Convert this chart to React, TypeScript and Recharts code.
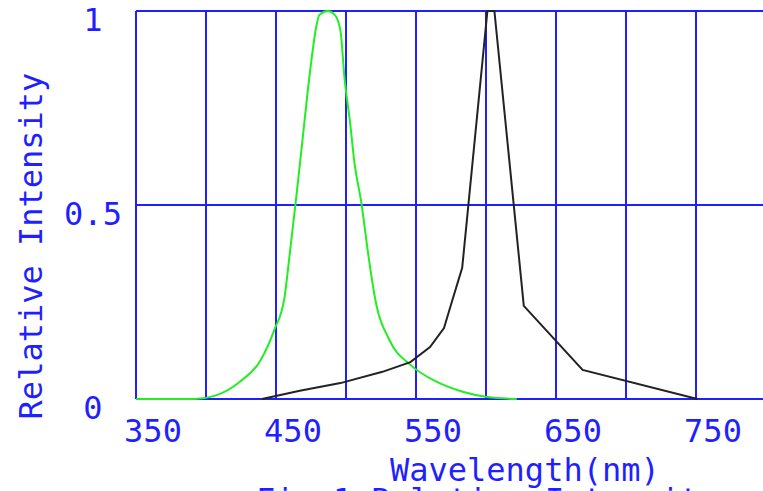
import { LineChart, Line, XAxis, YAxis, CartesianGrid } from 'recharts';

// wavelength (nm) / relative intensity
const greenNm = [350, 392, 406, 424, 439, 449, 456, 460, 464, 469, 474, 479, 481, 487, 492, 496, 499, 503, 506, 511, 516, 521, 531, 546, 565, 584, 601, 622];
const greenVal = [0, 0, 0.008, 0.044, 0.1, 0.18, 0.26, 0.38, 0.505, 0.67, 0.835, 0.964, 0.99, 1, 0.99, 0.95, 0.825, 0.71, 0.61, 0.505, 0.37, 0.255, 0.152, 0.088, 0.044, 0.018, 0.005, 0];

const blackNm = [440, 467, 496, 526, 546, 560, 570, 576, 583, 601, 606, 627, 669, 751];
const blackVal = [0, 0.021, 0.041, 0.07, 0.095, 0.134, 0.183, 0.255, 0.338, 1, 1, 0.24, 0.075, 0];

const xTicks = [350, 400, 450, 500, 550, 600, 650, 700, 750, 800];
const xLabels = [350, 450, 550, 650, 750];
const yTicks = [0, 0.5, 1];
const yLabels = ['0', '0.5', '1'];

const greenData = greenNm.map((nm, i) => ({ nm, v: greenVal[i] }));
const blackData = blackNm.map((nm, i) => ({ nm, v: blackVal[i] }));

const BLUE = '#1f1fff';
const FONT = '"DejaVu Sans Mono", "Liberation Mono", monospace';

const XTick = (props: any) => {
    const { x, y, payload } = props;
    if (!xLabels.includes(payload.value)) return null;
    return (
        <text x={x + 17} y={y + 43} textAnchor="middle" fill={BLUE} fontFamily={FONT} fontSize={32}>
            {payload.value}
        </text>
    );
};

const YTick = (props: any) => {
    const { x, y, payload } = props;
    const idx = yTicks.indexOf(payload.value);
    return (
        <text x={x - 43} y={y + 20} textAnchor="middle" fill={BLUE} fontFamily={FONT} fontSize={32}>
            {yLabels[idx]}
        </text>
    );
};

const XLabel = (props: any) => {
    const vb = props.viewBox;
    return (
        <g>
            <text x={vb.x + 254} y={vb.y + 82} fill={BLUE} fontFamily={FONT} fontSize={32}>
                Wavelength(nm)
            </text>
            <text x={vb.x + 120} y={vb.y + 112} fill={BLUE} fontFamily={FONT} fontSize={32}>
                Fig.1 Relative Intensity
            </text>
        </g>
    );
};

const YLabel = (props: any) => {
    const vb = props.viewBox;
    const cx = vb.x + 42;
    const cy = vb.y + vb.height / 2 + 41;
    return (
        <text
            x={cx}
            y={cy}
            textAnchor="middle"
            transform={`rotate(-90 ${cx} ${cy})`}
            fill={BLUE}
            fontFamily={FONT}
            fontSize={32}
        >
            Relative Intensity
        </text>
    );
};

export default function App() {
    return (
        <div style={{ position: 'fixed', left: 0, top: 0, width: 763, height: 491, overflow: 'hidden', background: '#fff' }}>
            <LineChart width={780} height={491} margin={{ top: 11, right: 14, bottom: 0, left: 0 }}>
                <CartesianGrid stroke={BLUE} strokeWidth={2} />
                <XAxis
                    type="number"
                    dataKey="nm"
                    domain={[350, 800]}
                    ticks={xTicks}
                    interval={0}
                    allowDataOverflow
                    height={92}
                    axisLine={false}
                    tickLine={false}
                    tickSize={0}
                    tickMargin={0}
                    tick={<XTick />}
                    label={{ content: <XLabel /> }}
                />
                <YAxis
                    type="number"
                    domain={[0, 1]}
                    ticks={yTicks}
                    interval={0}
                    width={136}
                    axisLine={false}
                    tickLine={false}
                    tickSize={0}
                    tickMargin={0}
                    tick={<YTick />}
                    label={{ content: <YLabel /> }}
                />
                <Line
                    data={greenData}
                    dataKey="v"
                    type="monotone"
                    stroke="#22ee22"
                    strokeWidth={2}
                    dot={false}
                    isAnimationActive={false}
                />
                <Line
                    data={blackData}
                    dataKey="v"
                    type="linear"
                    stroke="#222222"
                    strokeWidth={2}
                    dot={false}
                    isAnimationActive={false}
                />
            </LineChart>
        </div>
    );
}
